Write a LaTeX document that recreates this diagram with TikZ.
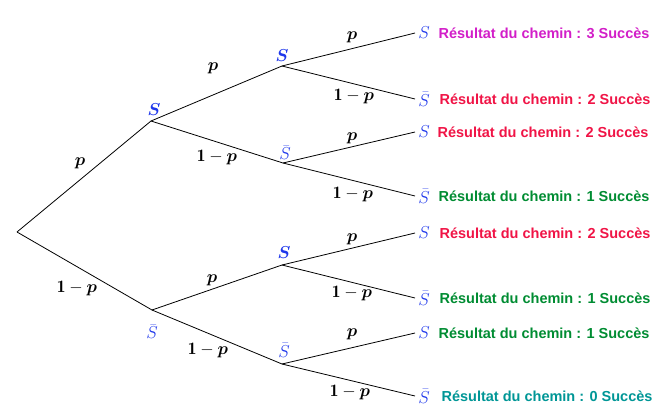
\documentclass[tikz,border=0pt]{standalone}
\usepackage{amsmath}
\usepackage{bm}
\usepackage{fontspec}
\setsansfont{Liberation Sans}
\usepackage{tikz}
\usetikzlibrary{positioning}
\definecolor{sblue}{RGB}{30,55,235}
\definecolor{cmagenta}{RGB}{210,30,200}
\definecolor{cred}{RGB}{240,20,70}
\definecolor{cgreen}{RGB}{0,140,50}
\definecolor{cteal}{RGB}{0,150,150}

\begin{document}
\begin{tikzpicture}[x=1pt,y=-1pt,line width=0.8pt,
		state/.style={text=sblue, inner sep=0.5pt, font=\fontsize{18}{20}\selectfont},
		leaf/.style={state, anchor=west, inner sep=3pt},
		prob/.style={inner sep=0pt, midway, font=\fontsize{17.5}{20}\selectfont},
		result/.style={inner sep=0pt, font=\sffamily\bfseries\fontsize{14.5}{17}\selectfont}]
		\useasboundingbox (0,0) rectangle (669,418);
		\coordinate (root) at (17,232);
		\coordinate (s1) at (151,121);
		\coordinate (sb1) at (152,310);
		\coordinate (s2) at (282,66);
		\coordinate (sb2) at (283,163);
		\coordinate (s3) at (282,265);
		\coordinate (sb3) at (282,364);
		\node[state, above = 5pt of s1, xshift=3pt] (ls1) {$\bm{S}$};
		\node[state, below = 14pt of sb1] (lsb1) {$\bar{S}$};
		\node[state, above = 4pt of s2] (ls2) {$\bm{S}$};
		\node[state, above = 2.5pt of sb2, xshift=2pt] (lsb2) {$\bar{S}$};
		\node[state, above = 6pt of s3, xshift=2pt] (ls3) {$\bm{S}$};
		\node[state, above = 6pt of sb3, xshift=2pt] (lsb3) {$\bar{S}$};
		\node[leaf] at (415,33) (l1) {$S$};
		\node[leaf] at (415,99) (l2) {$\bar{S}$};
		\node[leaf] at (415,132) (l3) {$S$};
		\node[leaf] at (415,196) (l4) {$\bar{S}$};
		\node[leaf] at (415,233) (l5) {$S$};
		\node[leaf] at (415,298) (l6) {$\bar{S}$};
		\node[leaf] at (415,333) (l7) {$S$};
		\node[leaf] at (415,396) (l8) {$\bar{S}$};
		\node[result, text=cmagenta, right = 5pt of l1] (r1) {Résultat du chemin : 3 Succès};
		\node[result, text=cred, right = 6pt of l2] (r2) {Résultat du chemin : 2 Succès};
		\node[result, text=cred, right = 4pt of l3] (r3) {Résultat du chemin : 2 Succès};
		\node[result, text=cgreen, right = 5pt of l4] (r4) {Résultat du chemin : 1 Succès};
		\node[result, text=cred, right = 6pt of l5] (r5) {Résultat du chemin : 2 Succès};
		\node[result, text=cgreen, right = 6pt of l6] (r6) {Résultat du chemin : 1 Succès};
		\node[result, text=cgreen, right = 5pt of l7] (r7) {Résultat du chemin : 1 Succès};
		\node[result, text=cteal, right = 8pt of l8] (r8) {Résultat du chemin : 0 Succès};
		\draw (root) -- node[prob, shift={(-4,-13.5)}] {$\bm{p}$} (s1);
		\draw (root) -- node[prob, shift={(-7.5,17)}] {$\mathbf{1}-\bm{p}$} (sb1);
		\draw (s1) -- node[prob, shift={(-3.5,-25.5)}] {$\bm{p}$} (s2);
		\draw (s1) -- node[prob, shift={(0,15)}] {$\mathbf{1}-\bm{p}$} (sb2);
		\draw (sb1) -- node[prob, shift={(-5,-7.5)}] {$\bm{p}$} (s3);
		\draw (sb1) -- node[prob, shift={(-9,13)}] {$\mathbf{1}-\bm{p}$} (sb3);
		\draw (s2) -- node[prob, shift={(3.5,-12.5)}] {$\bm{p}$} (l1.west);
		\draw (s2) -- node[prob, shift={(5.5,13.5)}] {$\mathbf{1}-\bm{p}$} (l2.west);
		\draw (sb2) -- node[prob, shift={(3,-9.5)}] {$\bm{p}$} (l3.west);
		\draw (sb2) -- node[prob, shift={(4,14.5)}] {$\mathbf{1}-\bm{p}$} (l4.west);
		\draw (s3) -- node[prob, shift={(3.5,-10)}] {$\bm{p}$} (l5.west);
		\draw (s3) -- node[prob, shift={(3.5,11.5)}] {$\mathbf{1}-\bm{p}$} (l6.west);
		\draw (sb3) -- node[prob, shift={(3.5,-14.5)}] {$\bm{p}$} (l7.west);
		\draw (sb3) -- node[prob, shift={(1.5,12)}] {$\mathbf{1}-\bm{p}$} (l8.west);
	\end{tikzpicture}
\end{document}
